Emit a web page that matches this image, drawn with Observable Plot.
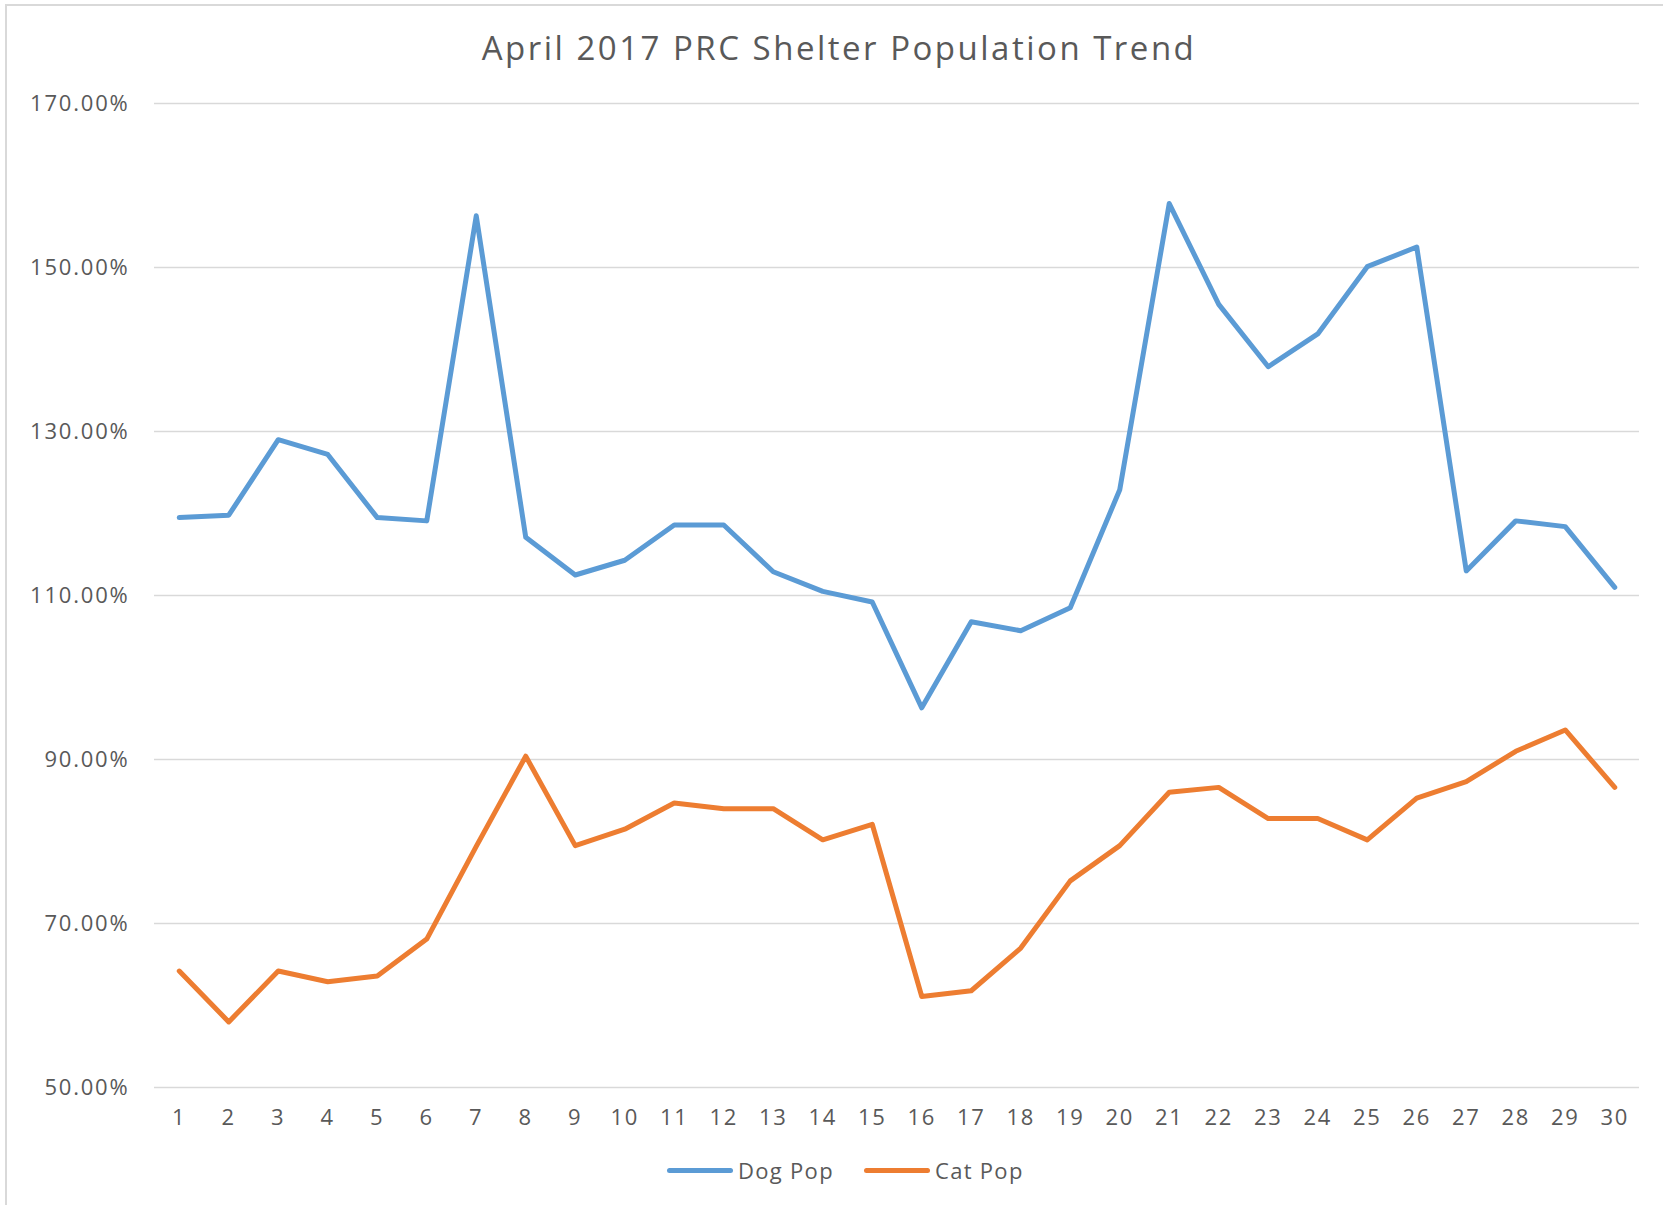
<!DOCTYPE html>
<html>
<head>
<meta charset="utf-8">
<script src="https://cdn.jsdelivr.net/npm/d3@7"></script>
<script src="https://cdn.jsdelivr.net/npm/@observablehq/plot@0.6"></script>
<style>
  html, body { margin: 0; padding: 0; background: #fff; overflow: hidden; }
  #wrap { position: relative; width: 1663px; height: 1205px; background: #fff; overflow: hidden; font-family: "Open Sans", sans-serif; color: #595959; }
  #frame { position: absolute; z-index: 10; left: 5px; top: 4px; width: 1720px; height: 1260px; border: 2px solid #d9d9d9; box-sizing: border-box; pointer-events: none; }
  #title { position: relative; height: 80px; width: 1663px; }
  #title span { position: absolute; left: 839px; top: 31px; transform: translateX(-50%); font-size: 33px; line-height: 1; letter-spacing: 2.5px; white-space: nowrap; color: #595959; }
  #chart { position: relative; height: 1050px; }
  #legend { position: relative; height: 75px; }
  .item { position: absolute; top: 25px; display: flex; align-items: center; font-size: 22px; letter-spacing: 1.3px; color: #595959; }
  .swatch { width: 66px; height: 5px; border-radius: 2.5px; margin-right: 5px; }
</style>
</head>
<body>
<div id="wrap">
  <div id="frame"></div>
  <div id="title"><span>April 2017 PRC Shelter Population Trend</span></div>
  <div id="chart"></div>
  <div id="legend"></div>
</div>
<script>
const days = [1,2,3,4,5,6,7,8,9,10,11,12,13,14,15,16,17,18,19,20,21,22,23,24,25,26,27,28,29,30];
const dogPop = [119.5,119.8,129.0,127.2,119.5,119.1,156.3,117.1,112.5,114.3,118.6,118.6,112.9,110.5,109.2,96.3,106.8,105.7,108.5,122.9,157.8,145.5,137.9,141.9,150.1,152.5,113.0,119.1,118.4,111.0];
const catPop = [64.2,58.0,64.2,62.9,63.6,68.1,79.4,90.4,79.5,81.5,84.7,84.0,84.0,80.2,82.1,61.1,61.8,67.0,75.2,79.5,86.0,86.6,82.8,82.8,80.2,85.3,87.3,91.0,93.6,86.6];
const seriesNames = ["Dog Pop", "Cat Pop"];
const seriesColors = ["#5B9BD5", "#ED7D31"];
const yTicks = [50,70,90,110,130,150,170];

const rows = [];
days.forEach((d, i) => {
  rows.push({day: d, value: dogPop[i], series: seriesNames[0]});
});
days.forEach((d, i) => {
  rows.push({day: d, value: catPop[i], series: seriesNames[1]});
});

const chart = Plot.plot({
  width: 1663,
  height: 1050,
  marginTop: 23,
  marginBottom: 43,
  marginLeft: 154,
  marginRight: 24,
  style: {fontFamily: "'Open Sans', sans-serif", fontSize: "22px", color: "#595959", background: "#fff", letterSpacing: "1.8px"},
  x: {type: "point", domain: days, padding: 0.5, round: false, label: null},
  y: {domain: [50, 170], label: null},
  color: {domain: seriesNames, range: seriesColors},
  marks: [
    Plot.ruleY(yTicks, {stroke: "#d9d9d9", strokeWidth: 1.5}),
    Plot.axisY({ticks: yTicks, tickSize: 0, tickPadding: 25, tickFormat: d => d.toFixed(2) + "%", fill: "#595959", label: null}),
    Plot.axisX({tickSize: 0, tickPadding: 22, fill: "#595959", label: null}),
    Plot.line(rows, {x: "day", y: "value", z: "series", stroke: "series", strokeWidth: 5, strokeLinejoin: "round", strokeLinecap: "round"})
  ]
});
document.getElementById("chart").appendChild(chart);

const legend = document.getElementById("legend");
const lefts = [667, 864];
seriesNames.forEach((name, i) => {
  const item = document.createElement("div");
  item.className = "item";
  item.style.left = lefts[i] + "px";
  const sw = document.createElement("div");
  sw.className = "swatch";
  sw.style.background = seriesColors[i];
  const label = document.createElement("span");
  label.textContent = name;
  item.appendChild(sw);
  item.appendChild(label);
  legend.appendChild(item);
});
</script>
</body>
</html>
